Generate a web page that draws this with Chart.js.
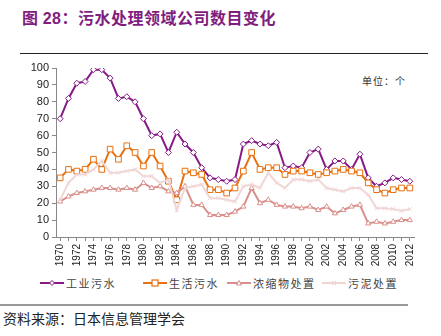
<!DOCTYPE html>
<html>
<head>
<meta charset="utf-8">
<script src="https://cdn.jsdelivr.net/npm/chart.js@4"></script>
<style>
  body { margin: 0; width: 441px; height: 336px; background: #fff; position: relative; overflow: hidden;
         font-family: "Noto Sans CJK SC", "Liberation Sans", sans-serif; }
  #title { position: absolute; left: 22px; top: 5px; font-size: 16px; font-weight: bold; color: #7f1e7f; letter-spacing: 0.5px; }
  #title .num { font-family: "Liberation Sans", Arial, sans-serif; }
  #topline { position: absolute; left: 20px; top: 53px; width: 408px; height: 1px; background: #222; }
  #unit { position: absolute; left: 362px; top: 73px; font-size: 10px; color: #333; letter-spacing: 1px; }
  #box { position: absolute; left: 0; top: 56px; width: 441px; height: 214px; }
  #legend { position: absolute; top: 275px; left: 0; width: 441px; height: 16px; font-size: 11px; color: #444; letter-spacing: 1.5px; }
  .item { position: absolute; top: 0; display: flex; align-items: center; white-space: nowrap; }
  .item svg { margin-right: 2px; }
  #botline { position: absolute; left: 0; top: 304px; width: 408px; height: 2px; background: #999; }
  #source { position: absolute; left: 3px; top: 308px; font-size: 14px; color: #222; }
</style>
</head>
<body>
<div id="title">图 <span class="num">28</span>：污水处理领域公司数目变化</div>
<div id="topline"></div>
<div id="unit">单位：个</div>
<div id="box"><canvas id="c"></canvas></div>
<div id="legend"></div>
<div id="botline"></div>
<div id="source">资料来源：日本信息管理学会</div>
<script>
// years 1970..2012
var years = [];
for (let y = 1970; y <= 2012; y++) years.push(String(y));

var industrial = [70, 82, 91, 92, 99, 99, 94, 82, 83, 80, 70, 60, 61, 50, 62, 55, 50, 41, 35, 34, 33, 34,
                  55, 57, 55, 54, 56, 41, 42, 41, 50, 52, 40, 45, 45, 40, 49, 35, 30, 32, 35, 34, 33];
var domestic = [35, 40, 39, 40, 46, 40, 52, 46, 54, 50, 42, 50, 42, 33, 22, 39, 38, 37, 28, 28, 26, 29,
                39, 50, 40, 41, 41, 37, 39, 39, 38, 37, 38, 39, 40, 39, 38, 32, 28, 26, 28, 29, 29];
var concentrate = [21, 24, 26, 27, 28, 29, 29, 28, 29, 28, 32, 29, 30, 27, 26, 30, 19, 19, 13, 13, 13, 15,
                   18, 29, 20, 22, 19, 18, 18, 17, 18, 16, 18, 14, 16, 18, 19, 8, 9, 8, 9, 10, 10];
var sludge = [22, 32, 37, 37, 40, 45, 38, 38, 39, 40, 36, 36, 32, 34, 16, 29, 30, 31, 23, 23, 22, 21,
              30, 31, 29, 38, 32, 29, 34, 34, 33, 34, 29, 28, 27, 29, 29, 25, 17, 17, 16.5, 15.5, 16.5];

var names = ['工业污水', '生活污水', '浓缩物处置', '污泥处置'];
var colors = ['#871a87', '#e8700f', '#d9908c', '#f1d6d6'];
var markers = ['rectRot', 'rect', 'triangle', 'crossRot'];
var sizes = [3, 4, 3, 3];
var series = [industrial, domestic, concentrate, sludge];

var datasets = [];
for (let i = 0; i < series.length; i++) {
  datasets.push({
    label: names[i],
    data: series[i],
    borderColor: colors[i],
    backgroundColor: '#fff',
    pointBorderColor: colors[i],
    pointBackgroundColor: '#fff',
    pointStyle: markers[i],
    pointRadius: sizes[i],
    pointBorderWidth: 1,
    borderWidth: 2,
    tension: 0,
    order: 4 - i
  });
}

new Chart(document.getElementById('c').getContext('2d'), {
  type: 'line',
  data: { labels: years, datasets: datasets },
  options: {
    responsive: true,
    maintainAspectRatio: false,
    animation: false,
    layout: { padding: { top: 12, right: 27, left: 0, bottom: 0 } },
    plugins: { legend: { display: false }, tooltip: { enabled: false } },
    scales: {
      x: {
        offset: true,
        grid: { display: true, drawOnChartArea: false, tickLength: 4, color: '#888' },
        border: { color: '#888' },
        ticks: {
          autoSkip: false, maxRotation: 90, minRotation: 90, color: '#222',
          font: { family: 'Liberation Sans', size: 10 },
          callback: function (v, i) { return i % 2 === 0 ? years[i] : ''; }
        },
        afterFit: function (s) { s.height = 33; }
      },
      y: {
        min: 0, max: 100,
        grid: { display: true, drawOnChartArea: false, tickLength: 4, color: '#888' },
        border: { color: '#888' },
        ticks: { stepSize: 10, color: '#222', font: { family: 'Liberation Sans', size: 11 } },
        afterFit: function (s) { s.width = 56; }
      }
    }
  }
});

// legend: line with marker in the middle
var legendX = [40, 143, 227, 322];
var svgMark = [
  '<path d="M12 4.5 L14.5 7 L12 9.5 L9.5 7 Z" fill="#fff" stroke="#871a87" stroke-width="1"/>',
  '<rect x="9" y="4" width="6" height="6" fill="#fff" stroke="#e8700f" stroke-width="1.2"/>',
  '<path d="M12 4.5 L14.5 9 L9.5 9 Z" fill="#fff" stroke="#d9908c" stroke-width="1"/>',
  '<path d="M10 5 L14 9 M14 5 L10 9" stroke="#f1d6d6" stroke-width="1.2"/>'
];
var lg = document.getElementById('legend');
for (let i = 0; i < names.length; i++) {
  let d = document.createElement('div');
  d.className = 'item';
  d.style.left = legendX[i] + 'px';
  d.innerHTML = '<svg width="24" height="14"><line x1="0" y1="7" x2="24" y2="7" stroke="' + colors[i] +
    '" stroke-width="2"/>' + svgMark[i] + '</svg><span>' + names[i] + '</span>';
  lg.appendChild(d);
}
</script>
</body>
</html>
